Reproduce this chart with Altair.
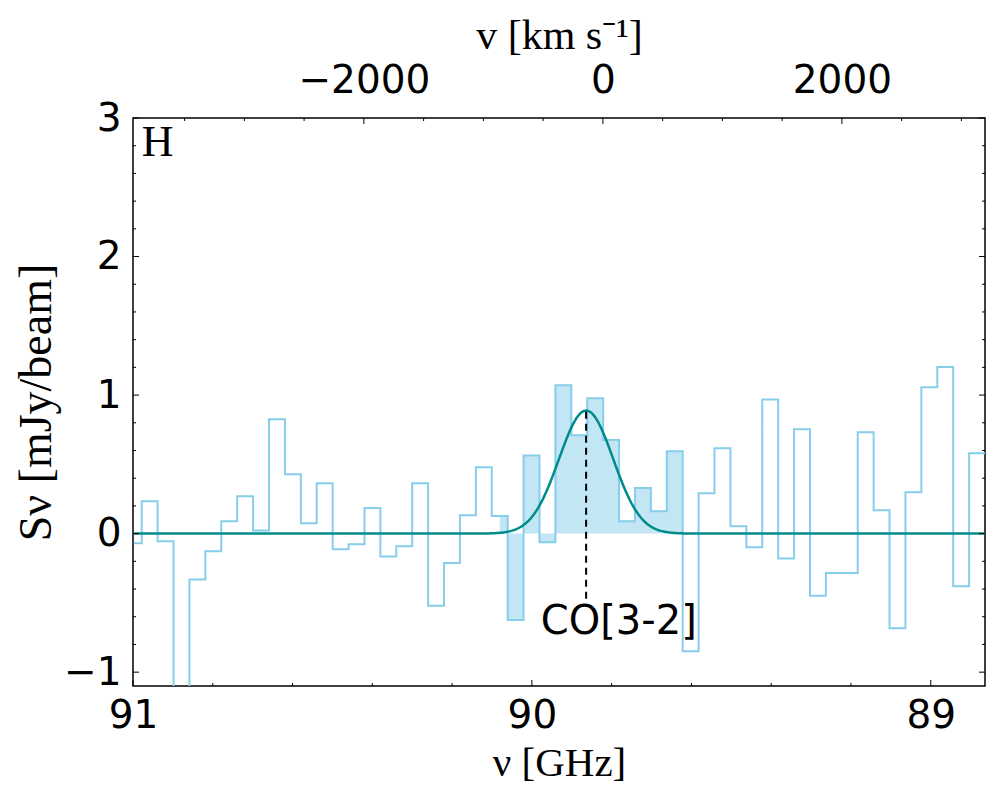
import altair as alt
import pandas as pd
import numpy as np

# ---------------- data ----------------
C_KMS = 299792.458
NU0 = 89.822          # GHz, zero of velocity axis
F0 = 90.9981          # GHz, centre of first channel
DF = 0.03989          # GHz, channel width

flux = [-0.07, 0.233, -0.056, -1.40, -0.332, -0.128, 0.089, 0.27, 0.022, 0.825,
        0.428, 0.075, 0.363, -0.113, -0.077, 0.185, -0.166, -0.092, 0.363, -0.52,
        -0.212, 0.132, 0.479, 0.128, -0.623, 0.563, -0.063, 1.071, 0.71, 0.977,
        0.676, 0.089, 0.33, 0.161, 0.594, -0.85, 0.291, 0.616, 0.053, -0.099,
        0.968, -0.18, 0.753, -0.448, -0.284, -0.284, 0.732, 0.168, -0.684, 0.298,
        1.056, 1.203, -0.38, 0.58]
freq = [F0 - k * DF for k in range(len(flux))]

FILL_FIRST, FILL_LAST = 23, 34

G_AMP, G_CEN, G_SIG = 0.888, 89.864, 0.068

X_LO, X_HI = 88.864, 91.0
Y_LO, Y_HI = -1.1, 3.0

freq_major = [91, 90, 89]
freq_minor = [90.8, 90.6, 90.4, 90.2, 89.8, 89.6, 89.4, 89.2]
vel_major = [-2000, 0, 2000]
vel_minor = [-3500, -3000, -2500, -1500, -1000, -500, 500, 1000, 1500, 2500, 3000]
s_major = [-1, 0, 1, 2, 3]
s_minor = [-0.8, -0.6, -0.4, -0.2, 0.2, 0.4, 0.6, 0.8, 1.2, 1.4, 1.6, 1.8,
           2.2, 2.4, 2.6, 2.8]

W, H = 852, 568
LINE_C = "#87CEEB"
TEAL = "#008B8B"

# ---------------- frames ----------------
line_df = pd.DataFrame({"freq": freq + [freq[-1] - DF / 2], "s": flux + [flux[-1]]})
area_df = pd.DataFrame({
    "freq": freq[FILL_FIRST:FILL_LAST + 1] + [freq[FILL_LAST] - DF / 2],
    "s": flux[FILL_FIRST:FILL_LAST + 1] + [flux[FILL_LAST]],
})
gx = np.linspace(X_LO, X_HI, 900)
gauss_df = pd.DataFrame({"freq": gx, "s": G_AMP * np.exp(-0.5 * ((gx - G_CEN) / G_SIG) ** 2)})
dash_df = pd.DataFrame({"freq": [G_CEN], "s": [-0.47], "s2": [G_AMP]})
co_df = pd.DataFrame({"freq": [89.782], "s": [-0.722], "label": ["CO[3-2]"]})
h_df = pd.DataFrame({"freq": [90.978], "s": [2.724], "label": ["H"]})

V_LO = C_KMS * (NU0 - X_HI) / NU0
V_HI = C_KMS * (NU0 - X_LO) / NU0

# ---------------- scales & axes ----------------
xs = alt.Scale(domain=[X_LO, X_HI], reverse=True, nice=False, zero=False)
ys = alt.Scale(domain=[Y_LO, Y_HI], nice=False, zero=False)
vs = alt.Scale(domain=[V_LO, V_HI], nice=False, zero=False)

xax = alt.Axis(values=freq_major, format="d", tickSize=0, domain=False, grid=False,
               labelFontSize=39, labelPadding=10, labelFlush=False, labelOverlap=False,
               labelFont="DejaVu Sans", labelColor="black",
               title="ν [GHz]", titleFont="Liberation Serif", titleFontSize=41,
               titleFontWeight="normal", titlePadding=8, titleColor="black")
yax = alt.Axis(values=s_major, format="d", tickSize=0, domain=False, grid=False,
               labelFontSize=39, labelPadding=12, labelFlush=False, labelOverlap=False,
               labelFont="DejaVu Sans", labelColor="black",
               title="Sν [mJy/beam]", titleFont="Liberation Serif", titleFontSize=46,
               titleFontWeight="normal", titlePadding=3, titleColor="black")
vax = alt.Axis(orient="top", values=vel_major, format="d", tickSize=0, domain=False, grid=False,
               labelFontSize=39, labelPadding=18, labelFlush=False, labelOverlap=False,
               labelFont="DejaVu Sans", labelColor="black",
               title="v [km s⁻¹]", titleFont="Liberation Serif", titleFontSize=42,
               titleFontWeight="normal", titlePadding=4, titleColor="black")

X = lambda: alt.X("freq:Q", scale=xs, axis=xax)
Y = lambda: alt.Y("s:Q", scale=ys, axis=yax)

area = alt.Chart(area_df).mark_area(interpolate="step", color=LINE_C, opacity=0.5, clip=True).encode(
    x=X(), y=Y(), y2=alt.datum(0))
step = alt.Chart(line_df).mark_line(interpolate="step", color=LINE_C, strokeWidth=2, clip=True).encode(
    x=X(), y=Y())
gauss = alt.Chart(gauss_df).mark_line(color=TEAL, strokeWidth=2.5, clip=True).encode(x=X(), y=Y())
dash = alt.Chart(dash_df).mark_rule(color="black", strokeWidth=2, strokeDash=[7, 5]).encode(
    x=X(), y=Y(), y2="s2:Q")
co = alt.Chart(co_df).mark_text(font="DejaVu Sans", fontSize=40, align="center",
                                baseline="alphabetic", color="black").encode(x=X(), y=Y(), text="label:N")
hlab = alt.Chart(h_df).mark_text(font="Liberation Serif", fontSize=44, align="left",
                                 baseline="alphabetic", color="black").encode(x=X(), y=Y(), text="label:N")


def xticks(vals, length):
    return alt.Chart(pd.DataFrame({"freq": vals})).mark_rule(color="black", strokeWidth=1).encode(
        x=X(), y=alt.value(H), y2=alt.value(H - length))


def yticks(vals, length, right=False):
    x0 = W if right else 0
    x1 = W - length if right else length
    return alt.Chart(pd.DataFrame({"s": vals})).mark_rule(color="black", strokeWidth=1).encode(
        y=Y(), x=alt.value(x0), x2=alt.value(x1))


def vticks(vals, length):
    return alt.Chart(pd.DataFrame({"vel": vals})).mark_rule(color="black", strokeWidth=1).encode(
        x=alt.X("vel:Q", scale=vs, axis=vax), y=alt.value(0), y2=alt.value(length))


freq_layer = alt.layer(
    area, step, gauss, dash, co, hlab,
    xticks(freq_major, 6), xticks(freq_minor, 3),
    yticks(s_major, 6), yticks(s_minor, 3),
    yticks(s_major, 6, True), yticks(s_minor, 3, True),
)
vel_layer = alt.layer(vticks(vel_major, 6), vticks(vel_minor, 3))

chart = alt.layer(freq_layer, vel_layer).resolve_scale(x="independent").properties(
    width=W, height=H,
    autosize=alt.AutoSizeParams(type="none"),
    padding={"left": 125, "top": 110, "right": 2, "bottom": 110},
    background="white",
).configure_view(stroke="black", strokeWidth=1.5)

chart.save("out.html", embed_options={"renderer": "svg", "actions": False})
